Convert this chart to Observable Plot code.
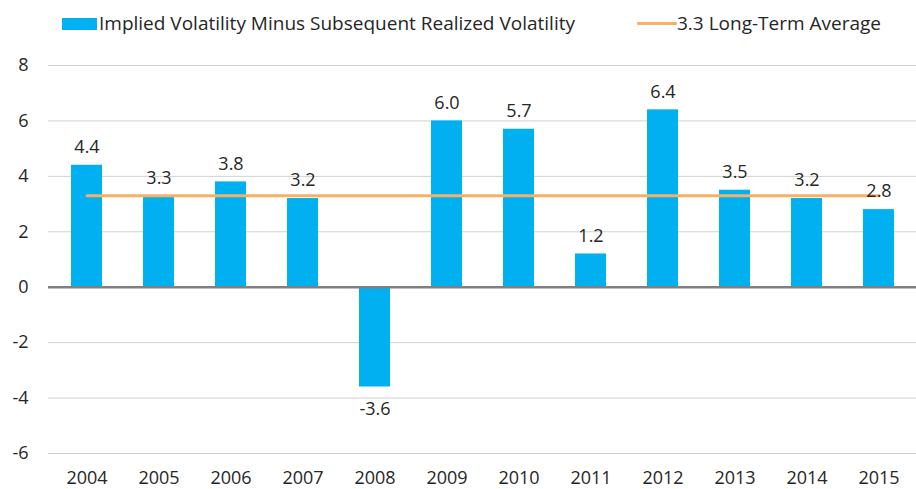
<!DOCTYPE html>
<html>
<head>
<meta charset="utf-8">
<script src="https://cdn.jsdelivr.net/npm/d3@7"></script>
<script src="https://cdn.jsdelivr.net/npm/@observablehq/plot@0.6"></script>
<style>
  html, body { margin: 0; padding: 0; background: #fff; }
  body { width: 916px; height: 489px; overflow: hidden; font-family: "Open Sans", sans-serif; color: #262626; }
  #legend { position: relative; height: 40px; width: 916px; font-size: 19px; }
  #legend .sw { position: absolute; left: 62px; top: 18px; width: 35px; height: 12px; background: #00B0F0; }
  #legend .t1 { position: absolute; left: 99px; top: 11px; line-height: 24px; white-space: nowrap; }
  #legend .ln { position: absolute; left: 637px; top: 22px; width: 40px; height: 3px; background: #F9B063; border-radius: 1px; }
  #legend .t2 { position: absolute; left: 677px; top: 11px; line-height: 24px; white-space: nowrap; }
  svg { display: block; }
</style>
</head>
<body>
<div id="legend">
  <div class="sw"></div><div class="t1" id="lab1"></div>
  <div class="ln"></div><div class="t2" id="lab2"></div>
</div>
<div id="chart"></div>
<script>
const years = ["2004","2005","2006","2007","2008","2009","2010","2011","2012","2013","2014","2015"];
const values = [4.4, 3.3, 3.8, 3.2, -3.6, 6.0, 5.7, 1.2, 6.4, 3.5, 3.2, 2.8];
const longTermAverage = 3.3;
const yTicks = [-6, -4, -2, 0, 2, 4, 6, 8];
const seriesName = "Implied Volatility Minus Subsequent Realized Volatility";
const averageName = "3.3 Long-Term Average";

document.getElementById("lab1").textContent = seriesName;
document.getElementById("lab2").textContent = averageName;

const data = years.map((year, i) => ({year, value: values[i]}));
const avgData = years.map(year => ({year, avg: longTermAverage}));

const chart = Plot.plot({
  width: 916,
  height: 449,
  marginTop: 25,
  marginBottom: 36,
  marginLeft: 48,
  marginRight: 0,
  style: {fontFamily: "Open Sans", fontSize: "18px", color: "#262626", background: "#fff"},
  x: {domain: years, paddingInner: 0.572, paddingOuter: 0.286, label: null},
  y: {domain: [-6, 8], label: null},
  marks: [
    Plot.gridY(yTicks, {stroke: "#d0d0d0", strokeOpacity: 1}),
    Plot.barY(data, {x: "year", y: "value", fill: "#00B0F0"}),
    Plot.ruleY([0], {stroke: "#808080", strokeWidth: 2.5}),
    Plot.lineY(avgData, {x: "year", y: "avg", stroke: "#F9B063", strokeWidth: 3}),
    Plot.text(data.filter(d => d.value >= 0), {x: "year", y: "value", dy: -18, text: d => d.value.toFixed(1), fill: "#262626", fontSize: 18}),
    Plot.text(data.filter(d => d.value < 0), {x: "year", y: "value", dy: 22, text: d => d.value.toFixed(1), fill: "#262626", fontSize: 18}),
    Plot.axisX({tickSize: 0, tickPadding: 18, fontSize: 18, fill: "#262626", label: null}),
    Plot.axisY(yTicks, {tickSize: 0, tickPadding: 20, fontSize: 18, fill: "#262626", label: null, tickFormat: d => String(d)})
  ]
});
document.getElementById("chart").appendChild(chart);
</script>
</body>
</html>
